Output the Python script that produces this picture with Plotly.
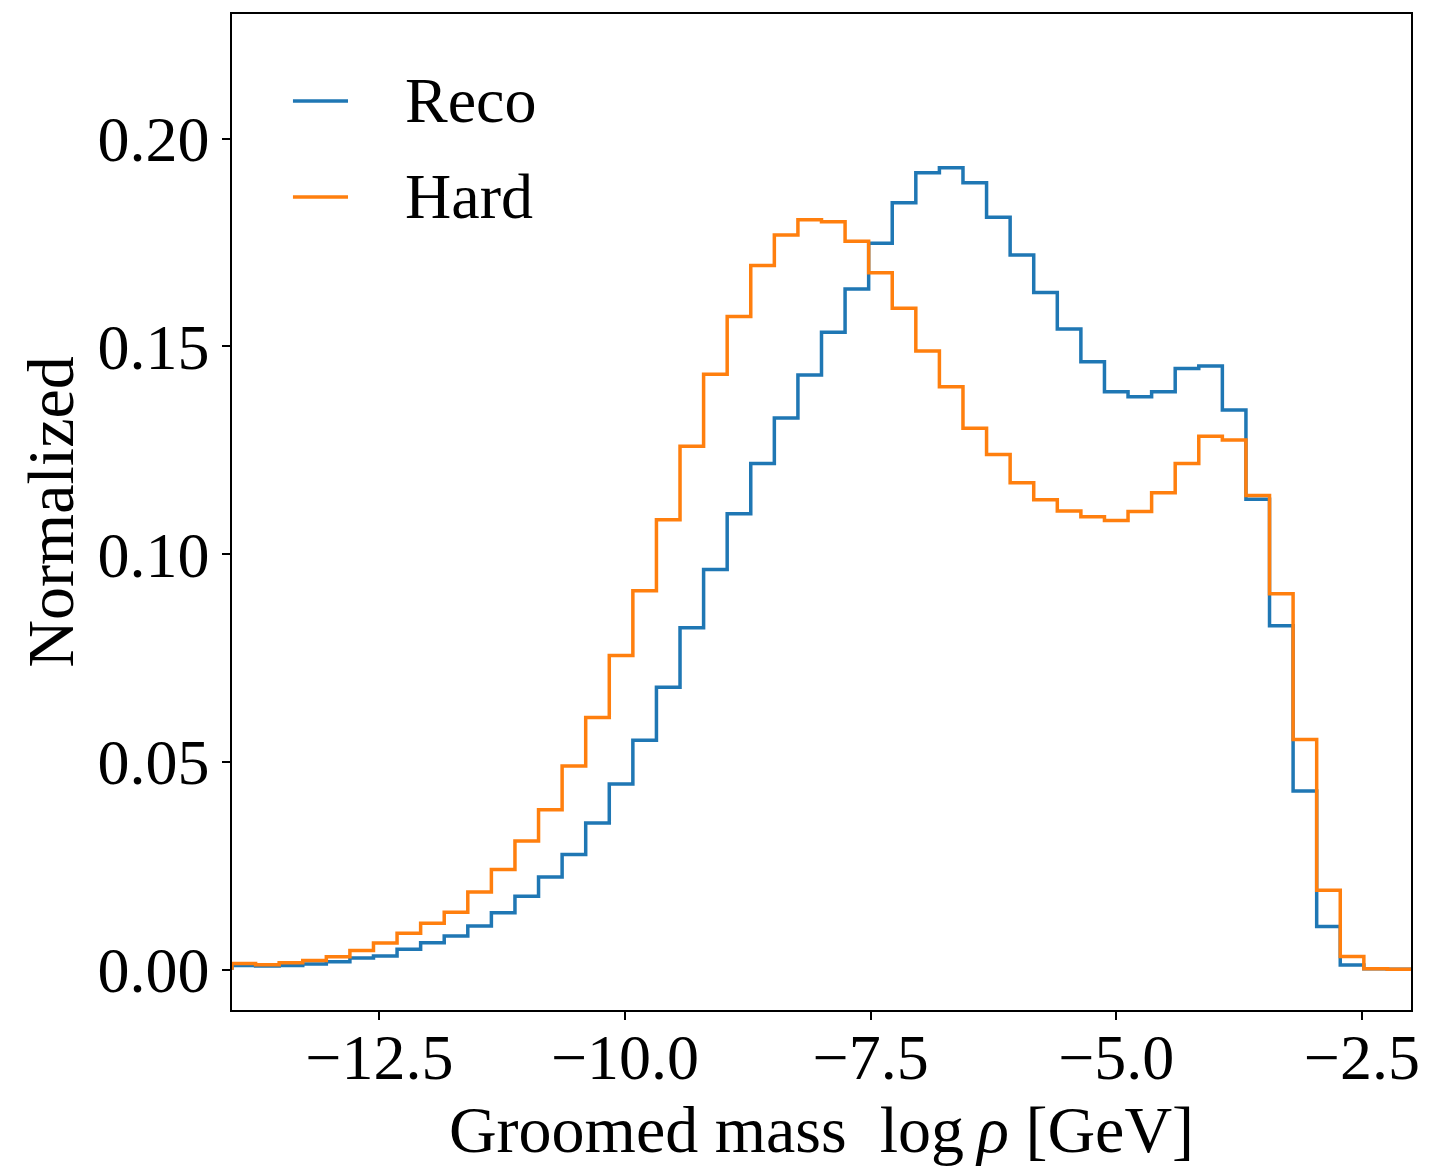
import numpy as np
import plotly.graph_objects as go

# Histogram binning: 50 equal bins over [-14, -2]
BIN_LO, BIN_HI, N_BINS = -14.0, -2.0, 50

# Normalized bin contents (density) per bin, left to right
reco = [
    0.0010, 0.0009, 0.0010, 0.0014, 0.0019, 0.0028, 0.0033, 0.0049, 0.0065, 0.0081,
    0.0105, 0.0137, 0.0177, 0.0223, 0.0277, 0.0353, 0.0447, 0.0552, 0.0680, 0.0823,
    0.0963, 0.1097, 0.1218, 0.1328, 0.1431, 0.1534, 0.1638, 0.1748, 0.1846, 0.1918,
    0.1930, 0.1894, 0.1811, 0.1720, 0.1630, 0.1542, 0.1463, 0.1391, 0.1379, 0.1391,
    0.1447, 0.1453, 0.1347, 0.1132, 0.0828, 0.0430, 0.0104, 0.0011, 0.0002, 0.0001,
]
hard = [
    0.0015, 0.0012, 0.0017, 0.0022, 0.0031, 0.0046, 0.0064, 0.0088, 0.0112, 0.0138,
    0.0187, 0.0241, 0.0310, 0.0385, 0.0490, 0.0607, 0.0756, 0.0912, 0.1083, 0.1260,
    0.1433, 0.1572, 0.1695, 0.1768, 0.1805, 0.1800, 0.1753, 0.1677, 0.1592, 0.1489,
    0.1403, 0.1303, 0.1240, 0.1172, 0.1131, 0.1104, 0.1090, 0.1081, 0.1103, 0.1148,
    0.1218, 0.1284, 0.1275, 0.1141, 0.0905, 0.0554, 0.0191, 0.0032, 0.0002, 0.0001,
]

series_names = ["Reco", "Hard"]
series_colors = ["#1f77b4", "#ff7f0e"]

x_ticks = [-12.5, -10.0, -7.5, -5.0, -2.5]
y_ticks = [0.00, 0.05, 0.10, 0.15, 0.20]

FONT = "Liberation Serif, DejaVu Serif, serif"
FS = 64
TITLE_FS = 66

edges = np.linspace(BIN_LO, BIN_HI, N_BINS + 1)


def step_outline(values):
    """Outline of a step histogram: rise at the first edge, drop at the last."""
    xs = [edges[0]] + list(edges)
    ys = [0.0] + list(values) + [0.0]
    return xs, ys


fig = go.Figure()
for name, vals, color in zip(series_names, [reco, hard], series_colors):
    xs, ys = step_outline(vals)
    fig.add_trace(go.Scatter(
        x=xs, y=ys, mode="lines", name=name,
        line=dict(color=color, width=3.5, shape="hv"),
        showlegend=False,
    ))

# Legend drawn in paper coordinates (line sample + label)
legend_y = [0.9127, 0.8163]
for name, color, ly in zip(series_names, series_colors, legend_y):
    fig.add_shape(type="line", xref="paper", yref="paper",
                  x0=0.0517, x1=0.0984, y0=ly, y1=ly,
                  line=dict(color=color, width=3.5))
    fig.add_annotation(xref="paper", yref="paper", x=0.145, y=ly,
                       text=name, showarrow=False, xanchor="left", yanchor="middle",
                       font=dict(family=FONT, size=FS, color="black"))

axis_common = dict(
    showline=True, linecolor="black", linewidth=1.5, mirror=True,
    ticks="outside", ticklen=8, tickwidth=1.5, tickcolor="black",
    showgrid=False, zeroline=False,
    tickfont=dict(family=FONT, size=FS, color="black"),
)

fig.update_xaxes(
    range=[BIN_LO, BIN_HI], tickvals=x_ticks,
    ticktext=[f"{v:.1f}".replace("-", "\u2212") for v in x_ticks],
    ticklabelstandoff=-18,
    title=dict(text="Groomed mass\u2002log\u2009<i>\u03c1</i> [GeV]",
               font=dict(family=FONT, size=TITLE_FS, color="black"), standoff=8),
    **axis_common,
)
fig.update_yaxes(
    range=[-0.0097, 0.23], tickvals=y_ticks,
    ticktext=[f"{v:.2f}" for v in y_ticks],
    title=dict(text="Normalized",
               font=dict(family=FONT, size=TITLE_FS, color="black"), standoff=2),
    **axis_common,
)

fig.update_layout(
    width=1440, height=1171,
    margin=dict(l=232, r=29, t=14, b=161),
    plot_bgcolor="white", paper_bgcolor="white",
    font=dict(family=FONT, size=FS, color="black"),
)

fig.write_html("out.html")
